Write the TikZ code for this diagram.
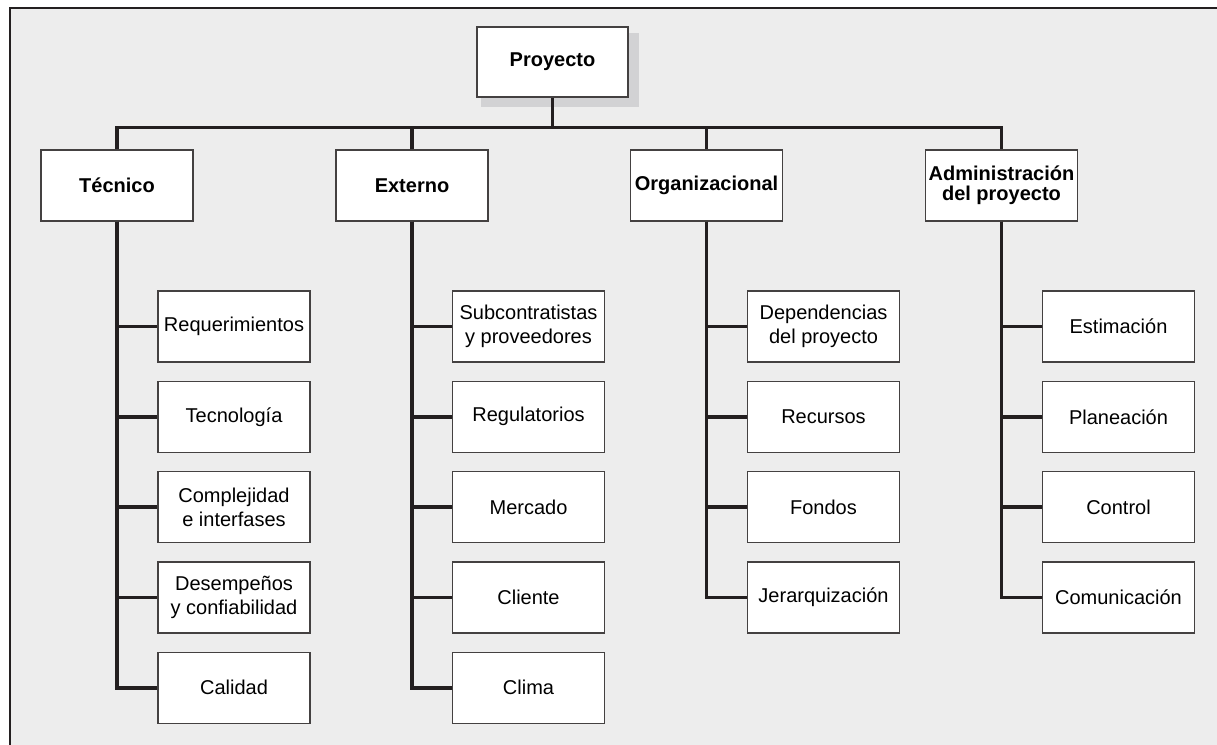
\documentclass[tikz,border=0pt]{standalone}
\usepackage{fontspec}
\setmainfont{Liberation Sans}
\usetikzlibrary{calc}
\definecolor{bg}{HTML}{EDEDED}
\definecolor{ink}{HTML}{231F20}
\definecolor{shadowgray}{HTML}{D2D2D4}
\begin{document}
\begin{tikzpicture}[x=1pt,y=-1pt,
  box/.style={draw=ink!85,line width=1.2pt,fill=white,minimum width=152pt,minimum height=71pt,inner sep=2pt,align=center,font=\fontsize{20}{24}\selectfont},
  cat/.style={box,font=\fontsize{20}{20}\selectfont\bfseries},
  link/.style={draw=ink,line width=3.6pt}]
\useasboundingbox (0,0) rectangle (1217,744);
\clip (0,0) rectangle (1217,744);
\fill[white] (0,0) rectangle (1217,744);
\draw[fill=bg,draw=ink,line width=2.4pt] (10,8) rectangle (1240,770);
% shadow
\fill[shadowgray] (481,33) rectangle (639,107);
\node[cat,minimum width=151pt,minimum height=70pt] (P) at (552.5,62) {Proyecto};
\node[cat] (T) at (117,185.5) {Técnico};
\node[cat] (E) at (412,185.5) {Externo};
\node[cat] (O) at (706.5,185.5) {Organizacional};
\node[cat] (A) at (1001.5,185.5) {Administración\\del proyecto};
% children
\foreach \n/\t [count=\i from 0] in {t1/Requerimientos,t2/Tecnología,t3/Complejidad\\e interfases,t4/Desempeños\\y confiabilidad,t5/Calidad}
  \node[box] (\n) at (234,326.5+90.3*\i) {\t};
\foreach \n/\t [count=\i from 0] in {e1/Subcontratistas\\y proveedores,e2/Regulatorios,e3/Mercado,e4/Cliente,e5/Clima}
  \node[box] (\n) at (528.5,326.5+90.3*\i) {\t};
\foreach \n/\t [count=\i from 0] in {o1/Dependencias\\del proyecto,o2/Recursos,o3/Fondos,o4/Jerarquización}
  \node[box] (\n) at (823.5,326.5+90.3*\i) {\t};
\foreach \n/\t [count=\i from 0] in {a1/Estimación,a2/Planeación,a3/Control,a4/Comunicación}
  \node[box] (\n) at (1118.5,326.5+90.3*\i) {\t};
% connectors
\coordinate (bus) at ($(P.south)+(0,30)$);
\path[link] (T.north) |- (bus) -| (A.north);
\path[link] (P.south) -- (bus);
\path[link] (E.north) -- (E.north |- bus);
\path[link] (O.north) -- (O.north |- bus);
\foreach \c in {t1,t2,t3,t4,t5} \path[link] (T.south) |- (\c.west);
\foreach \c in {e1,e2,e3,e4,e5} \path[link] (E.south) |- (\c.west);
\foreach \c in {o1,o2,o3,o4} \path[link] (O.south) |- (\c.west);
\foreach \c in {a1,a2,a3,a4} \path[link] (A.south) |- (\c.west);
\end{tikzpicture}
\end{document}
